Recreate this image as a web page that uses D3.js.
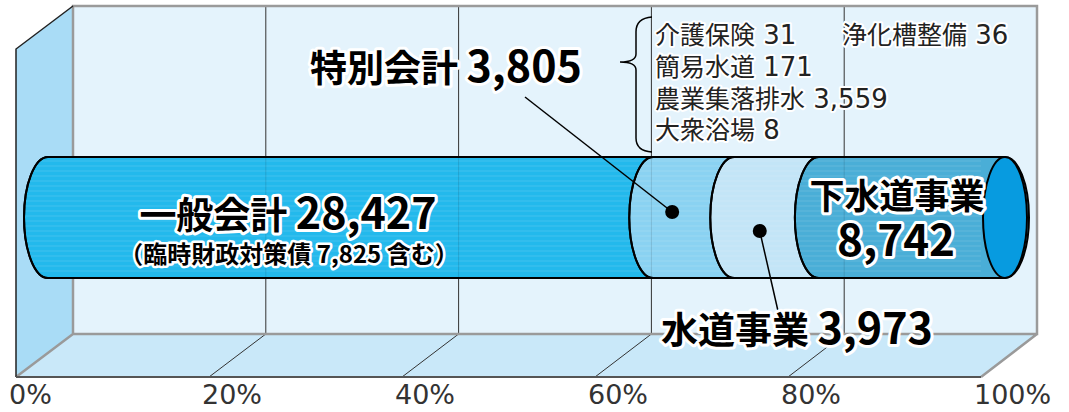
<!DOCTYPE html>
<html>
<head>
<meta charset="utf-8">
<script src="https://cdn.jsdelivr.net/npm/d3@7"></script>
<style>
body { margin: 0; background: #fff; }
svg text { font-family: "Noto Sans CJK JP", "Noto Sans", sans-serif; }
.halo { paint-order: stroke; stroke: #fff; stroke-linejoin: round; }
</style>
</head>
<body>
<div id="chart"></div>
<script>
// data
var segNames = ["一般会計", "特別会計", "水道事業", "下水道事業"];
var segValues = [28427, 3805, 3973, 8742];
var segColors = ["#23b9ec", "#8ad2f2", "#c3e5f7", "#4aaed7"];
var subNames = ["介護保険", "浄化槽整備", "簡易水道", "農業集落排水", "大衆浴場"];
var subValues = [31, 36, 171, 3559, 8];
var rinjiName = "臨時財政対策債";
var rinjiValue = 7825;
var tickValues = [0, 20, 40, 60, 80, 100];

var width = 1069, height = 412;
var fmt = d3.format(",");

var svg = d3.select("#chart").append("svg")
    .attr("width", width)
    .attr("height", height);

// box geometry
var floorY = 377, backBottom = 334, backTop = 6;
var xFront = d3.scaleLinear().domain([0, 100]).range([16, 981]);
var xBack = d3.scaleLinear().domain([0, 100]).range([73, 1037]);
var dy = floorY - backBottom;

// back wall
svg.append("rect")
    .attr("x", xBack(0)).attr("y", backTop)
    .attr("width", xBack(100) - xBack(0)).attr("height", backBottom - backTop)
    .style("fill", "#e4f3fc");

// left wall
svg.append("polygon")
    .attr("points", [[xFront(0), backTop + dy], [xBack(0), backTop], [xBack(0), backBottom], [xFront(0), floorY]].join(" "))
    .style("fill", "#a9dcf6");

// floor
svg.append("polygon")
    .attr("points", [[xFront(0), floorY], [xBack(0), backBottom], [xBack(100), backBottom], [xFront(100), floorY]].join(" "))
    .style("fill", "#c9e8f9");

// grid lines on back wall and floor
var inner = tickValues.slice(1, -1);
svg.selectAll(".vgrid").data(inner).enter().append("line")
    .attr("x1", function (d) { return xBack(d); }).attr("x2", function (d) { return xBack(d); })
    .attr("y1", backTop).attr("y2", backBottom)
    .style("stroke", "#333").style("stroke-width", 1);
svg.selectAll(".fgrid").data(inner).enter().append("line")
    .attr("x1", function (d) { return xBack(d); }).attr("y1", backBottom)
    .attr("x2", function (d) { return xFront(d); }).attr("y2", floorY)
    .style("stroke", "#333").style("stroke-width", 1);

// box borders
svg.append("path")
    .attr("d", "M" + xBack(0) + "," + backBottom + "V" + backTop + "H" + xBack(100) + "V" + backBottom + "H" + xBack(0) +
        "L" + xFront(0) + "," + floorY + "M" + xBack(100) + "," + backBottom + "L" + xFront(100) + "," + floorY)
    .style("fill", "none").style("stroke", "#9a9a9a").style("stroke-width", 2.5);
svg.append("path")
    .attr("d", "M" + xBack(0) + "," + backTop + "L" + xFront(0) + "," + (backTop + dy) + "V" + floorY)
    .style("fill", "none").style("stroke", "#222").style("stroke-width", 1.5);
svg.append("line")
    .attr("x1", xFront(0)).attr("x2", xFront(100)).attr("y1", floorY).attr("y2", floorY)
    .style("stroke", "#555").style("stroke-width", 2);

// axis labels
svg.selectAll(".tick").data(tickValues).enter().append("text")
    .attr("x", function (d) { return xFront(d) - 7; })
    .attr("y", 404)
    .style("font-family", "DejaVu Sans")
    .style("font-size", "27px")
    .style("fill", "#333")
    .text(function (d) { return d + "%"; });

// cylinder
var total = d3.sum(segValues);
var cyTop = 157, cyBot = 278, cyMid = (cyTop + cyBot) / 2, ry = (cyBot - cyTop) / 2, rx = 24;
var xCyl = d3.scaleLinear().domain([0, total]).range([48, 1005]);
var cum = 0;
var segs = segValues.map(function (v, i) {
    var s = { name: segNames[i], value: v, color: segColors[i], x0: xCyl(cum), x1: xCyl(cum + v) };
    cum += v;
    return s;
});

function segPath(s) {
    return "M" + s.x0 + "," + cyTop + "H" + s.x1 +
        "A" + rx + "," + ry + " 0 0 1 " + s.x1 + "," + cyBot +
        "H" + s.x0 +
        "A" + rx + "," + ry + " 0 0 1 " + s.x0 + "," + cyTop + "Z";
}

var cyl = svg.append("g");
cyl.selectAll(".seg").data(segs).enter().append("path")
    .attr("d", segPath)
    .style("fill", function (d) { return d.color; })
    .style("stroke", "#000").style("stroke-width", 2);

// faint stripes
var clip = svg.append("clipPath").attr("id", "cylclip");
clip.append("path").attr("d", segPath({ x0: xCyl(0), x1: xCyl(total) }));
var stripeYs = d3.range(cyTop + 4, cyBot - 2, 5);
cyl.append("g").attr("clip-path", "url(#cylclip)")
    .selectAll("line").data(stripeYs).enter().append("line")
    .attr("x1", xCyl(0) - rx).attr("x2", xCyl(total) - rx)
    .attr("y1", function (d) { return d; }).attr("y2", function (d) { return d; })
    .style("stroke", "#fff").style("stroke-opacity", 0.14).style("stroke-width", 1);

// faint grid showing through the cylinder
cyl.selectAll(".ghost").data(inner).enter().append("line")
    .attr("x1", function (d) { return xBack(d); }).attr("x2", function (d) { return xBack(d); })
    .attr("y1", cyTop).attr("y2", cyBot)
    .style("stroke", "#000").style("stroke-opacity", 0.12).style("stroke-width", 1);

// redraw segment edges over stripes
cyl.selectAll(".edge").data(segs).enter().append("path")
    .attr("d", function (s) { return "M" + s.x0 + "," + cyTop + "A" + rx + "," + ry + " 0 0 0 " + s.x0 + "," + cyBot; })
    .style("fill", "none").style("stroke", "#000").style("stroke-width", 2);

// right end cap
cyl.append("ellipse")
    .attr("cx", xCyl(total)).attr("cy", cyMid).attr("rx", rx - 2).attr("ry", ry)
    .style("fill", "#079be0").style("stroke", "#000").style("stroke-width", 2);

// leader lines and dots
var spec = segs[1], water = segs[2];
var specDot = [(spec.x0 + spec.x1) / 2 - rx * 0.9, 212];
var waterDot = [(water.x0 + water.x1) / 2 - rx * 0.7, 231];
svg.append("line").attr("x1", 525).attr("y1", 97).attr("x2", specDot[0]).attr("y2", specDot[1])
    .style("stroke", "#000").style("stroke-width", 1.5);
svg.append("line").attr("x1", waterDot[0]).attr("y1", waterDot[1]).attr("x2", waterDot[0] + 18).attr("y2", 310)
    .style("stroke", "#000").style("stroke-width", 1.5);
svg.selectAll(".dot").data([specDot, waterDot]).enter().append("circle")
    .attr("cx", function (d) { return d[0]; }).attr("cy", function (d) { return d[1]; })
    .attr("r", 7).style("fill", "#000");

// big labels
function bigLabel(x, y, name, value, nameSize, numSize) {
    var t = svg.append("text").attr("class", "halo")
        .attr("x", x).attr("y", y)
        .attr("text-anchor", "middle")
        .style("font-weight", "bold")
        .style("stroke-width", 6)
        .style("fill", "#000");
    t.append("tspan").style("font-size", nameSize + "px").text(name + " ");
    t.append("tspan").style("font-size", numSize + "px").text(fmt(value));
    return t;
}
bigLabel(288, 229, segs[0].name, segs[0].value, 37, 43);
bigLabel(446, 82, segs[1].name, segs[1].value, 37, 43);
bigLabel(797, 344, segs[2].name, segs[2].value, 37, 43);

svg.append("text").attr("class", "halo")
    .attr("x", 289).attr("y", 263).attr("text-anchor", "middle")
    .style("font-weight", "bold").style("font-size", "24px").style("stroke-width", 5)
    .text("（" + rinjiName + " " + fmt(rinjiValue) + " 含む）");

svg.append("text").attr("class", "halo")
    .attr("x", 897).attr("y", 209).attr("text-anchor", "middle")
    .style("font-weight", "bold").style("font-size", "35px").style("stroke-width", 6)
    .text(segs[3].name);
svg.append("text").attr("class", "halo")
    .attr("x", 896).attr("y", 256).attr("text-anchor", "middle")
    .style("font-weight", "bold").style("font-size", "44px").style("stroke-width", 6)
    .text(fmt(segs[3].value));

// brace
svg.append("path")
    .attr("d", "M652,17 Q636,18 636,32 V54 Q636,62 620,62 Q636,62 636,70 V138 Q636,151 652,152")
    .style("fill", "none").style("stroke", "#000").style("stroke-width", 1.5);

// breakdown of special accounts
var subPos = [[655, 44], [842, 44], [655, 76], [655, 108], [655, 139]];
var sub = svg.selectAll(".sub").data(subNames).enter().append("text")
    .attr("class", "halo")
    .attr("x", function (d, i) { return subPos[i][0]; })
    .attr("y", function (d, i) { return subPos[i][1]; })
    .style("stroke-width", 4).style("fill", "#222");
sub.append("tspan").style("font-size", "25px").text(function (d) { return d; });
sub.append("tspan")
    .style("font-family", "DejaVu Sans").style("font-size", "26px")
    .text(function (d, i) { return " " + fmt(subValues[i]); });
</script>
</body>
</html>
